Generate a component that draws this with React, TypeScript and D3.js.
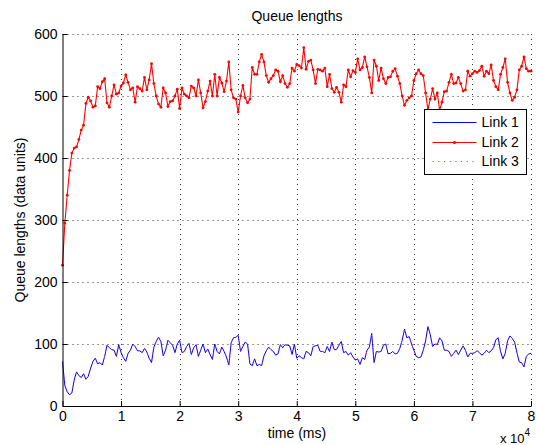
import React, { useEffect, useRef } from "react";
import * as d3 from "d3";

const width = 536;
const height = 445;

// one sample every 400 ms, 0 .. 80000 ms
const sampleStep = 400;

const link1 = [
  72, 33, 23, 18, 21, 42, 55, 49, 46, 52,
  43, 48, 61, 72, 77, 68, 70, 66, 80, 98,
  94, 91, 90, 80, 99, 86, 78, 72, 85, 90,
  100, 96, 89, 89, 86, 93, 87, 77, 70, 95,
  104, 111, 104, 81, 90, 106, 102, 98, 86, 100,
  106, 86, 88, 96, 101, 83, 94, 99, 80, 90,
  100, 86, 92, 83, 75, 100, 88, 84, 95, 88,
  79, 66, 102, 110, 111, 114, 88, 96, 103, 100,
  68, 65, 76, 65, 67, 65, 81, 89, 95, 91,
  88, 82, 84, 99, 94, 99, 98, 97, 83, 100,
  77, 81, 78, 76, 88, 86, 81, 96, 97, 98,
  88, 88, 86, 96, 88, 103, 91, 91, 98, 104,
  86, 88, 82, 86, 79, 74, 76, 67, 78, 75,
  90, 95, 117, 70, 88, 87, 88, 98, 100, 84,
  85, 88, 84, 85, 93, 106, 124, 110, 112, 100,
  90, 80, 78, 79, 90, 105, 128, 115, 96, 100,
  99, 110, 105, 90, 90, 88, 80, 85, 90, 83,
  90, 97, 90, 79, 85, 85, 86, 89, 86, 82,
  85, 90, 86, 89, 94, 107, 110, 88, 76, 85,
  105, 113, 109, 103, 86, 71, 70, 63, 80, 84,
  85,
];

const link2 = [
  227, 295, 340, 380, 408, 416, 418, 430, 445, 453,
  488, 498, 492, 482, 484, 515, 512, 523, 528, 489,
  482, 500, 518, 503, 505, 516, 521, 534, 522, 510,
  513, 490, 515, 512, 508, 530, 510, 526, 552, 520,
  500, 487, 482, 513, 505, 483, 491, 492, 500, 511,
  480, 513, 503, 500, 497, 516, 513, 500, 526, 505,
  481, 491, 508, 524, 500, 535, 500, 530, 521, 507,
  524, 555, 510, 497, 495, 474, 500, 517, 497, 489,
  495, 546, 535, 535, 555, 567, 555, 533, 522, 528,
  533, 542, 540, 523, 533, 520, 514, 520, 545, 540,
  551, 549, 545, 578, 543, 556, 558, 542, 520, 543,
  542, 540, 545, 515, 535, 512, 506, 514, 506, 490,
  518, 515, 542, 531, 541, 538, 560, 542, 546, 563,
  547, 530, 505, 558, 548, 525, 545, 528, 520, 530,
  531, 540, 544, 532, 520, 500, 485, 493, 497, 500,
  525, 536, 542, 536, 533, 505, 478, 495, 512, 495,
  505, 477, 490, 507, 508, 522, 535, 520, 521, 530,
  520, 508, 510, 540, 532, 536, 540, 538, 541, 548,
  532, 540, 536, 550, 525, 515, 510, 535, 546, 560,
  522, 505, 493, 498, 510, 542, 548, 563, 544, 540,
  540,
];

// link 3 runs right on top of link 1
const link3 = link1;

const legendLabels = ["Link 1", "Link 2", "Link 3"];
const xTicks = [0, 10000, 20000, 30000, 40000, 50000, 60000, 70000, 80000];
const yTicks = [0, 100, 200, 300, 400, 500, 600];

const font = "'Liberation Sans', Arial, Helvetica, sans-serif";

const App = () => {
  const ref = useRef<SVGSVGElement>(null);

  useEffect(() => {
    const svg = d3.select(ref.current);
    svg.selectAll("*").remove();

    const x = d3.scaleLinear().domain([0, 80000]).range([62.5, 531]);
    const y = d3.scaleLinear().domain([0, 600]).range([406, 34]);

    const toPoints = (vals: number[]) =>
      vals.map((v, i) => ({ t: i * sampleStep, v }));
    const line = d3
      .line<{ t: number; v: number }>()
      .x((d) => x(d.t))
      .y((d) => y(d.v));

    // grid
    const grid = svg.append("g").attr("stroke", "#333").attr("stroke-width", 1).attr("stroke-dasharray", "1,4");
    grid.selectAll(".gx")
      .data(xTicks.slice(1))
      .enter()
      .append("line")
      .attr("x1", (d) => Math.round(x(d)) + 0.5)
      .attr("x2", (d) => Math.round(x(d)) + 0.5)
      .attr("y1", y(600))
      .attr("y2", y(0));
    grid.selectAll(".gy")
      .data(yTicks.slice(1))
      .enter()
      .append("line")
      .attr("y1", (d) => Math.round(y(d)) + 0.5)
      .attr("y2", (d) => Math.round(y(d)) + 0.5)
      .attr("x1", x(0))
      .attr("x2", x(80000));

    // series
    svg.append("path")
      .datum(toPoints(link1))
      .attr("fill", "none")
      .attr("stroke", "#0000ff")
      .attr("stroke-width", 1)
      .attr("d", line);

    svg.append("path")
      .datum(toPoints(link2))
      .attr("fill", "none")
      .attr("stroke", "#ff0000")
      .attr("stroke-width", 1.1)
      .attr("d", line);
    svg.append("g")
      .selectAll("circle")
      .data(toPoints(link2))
      .enter()
      .append("circle")
      .attr("cx", (d) => x(d.t))
      .attr("cy", (d) => y(d.v))
      .attr("r", 1.4)
      .attr("fill", "#ff0000");

    svg.append("path")
      .datum(toPoints(link3))
      .attr("fill", "none")
      .attr("stroke", "#ff4040")
      .attr("stroke-width", 0.8)
      .attr("stroke-dasharray", "1,5")
      .attr("d", line);

    // axes
    const yAxis = svg.append("g")
      .attr("transform", "translate(62.5,0)")
      .call(d3.axisLeft(y).tickValues(yTicks).tickSizeInner(-5).tickSizeOuter(0).tickPadding(5));
    const xAxis = svg.append("g")
      .attr("transform", "translate(0,406)")
      .call(
        d3.axisBottom(x)
          .tickValues(xTicks)
          .tickSizeInner(-5)
          .tickSizeOuter(0)
          .tickPadding(5)
          .tickFormat((d) => String(+d / 10000))
      );
    [yAxis, xAxis].forEach((g) => {
      g.attr("font-family", font).attr("font-size", 14);
      g.selectAll("text").attr("fill", "#000");
      g.selectAll("line").attr("stroke", "#000");
      g.select(".domain").attr("stroke", "#000");
    });

    // titles
    svg.append("text")
      .attr("x", 297)
      .attr("y", 21)
      .attr("text-anchor", "middle")
      .attr("font-family", font)
      .attr("font-size", 14)
      .text("Queue lengths");
    svg.append("text")
      .attr("x", 297)
      .attr("y", 438)
      .attr("text-anchor", "middle")
      .attr("font-family", font)
      .attr("font-size", 14)
      .text("time (ms)");
    svg.append("text")
      .attr("transform", "translate(25,220) rotate(-90)")
      .attr("text-anchor", "middle")
      .attr("font-family", font)
      .attr("font-size", 14)
      .text("Queue lengths (data units)");
    const exp = svg.append("text")
      .attr("x", 500)
      .attr("y", 443)
      .attr("font-family", font)
      .attr("font-size", 13);
    exp.append("tspan").text("x 10");
    exp.append("tspan").attr("dy", -7).attr("font-size", 10).text("4");

    // legend
    const lg = svg.append("g").attr("transform", "translate(424.5,109.5)");
    lg.append("rect")
      .attr("width", 102)
      .attr("height", 65)
      .attr("fill", "#fff")
      .attr("stroke", "#000")
      .attr("stroke-width", 1);
    const rowY = [13, 33, 52];
    const entries = lg.selectAll(".entry")
      .data(legendLabels)
      .enter()
      .append("g")
      .attr("transform", (_, i) => `translate(0,${rowY[i]})`);
    entries.append("line")
      .attr("x1", 8)
      .attr("x2", 52)
      .attr("stroke", (_, i) => (i === 0 ? "#0000ff" : i === 1 ? "#ff0000" : "#ff4040"))
      .attr("stroke-width", (_, i) => (i === 2 ? 1.2 : 1))
      .attr("stroke-dasharray", (_, i) => (i === 2 ? "1.2,4.5" : null));
    entries.filter((_, i) => i === 1)
      .append("circle")
      .attr("cx", 30)
      .attr("r", 1.6)
      .attr("fill", "#ff0000");
    entries.append("text")
      .attr("x", 57)
      .attr("dy", "0.35em")
      .attr("font-family", font)
      .attr("font-size", 14)
      .text((d) => d);
  }, []);

  return (
    <svg
      ref={ref}
      width={width}
      height={height}
      style={{ position: "absolute", left: 0, top: 0, background: "#fff" }}
    />
  );
};

export default App;
